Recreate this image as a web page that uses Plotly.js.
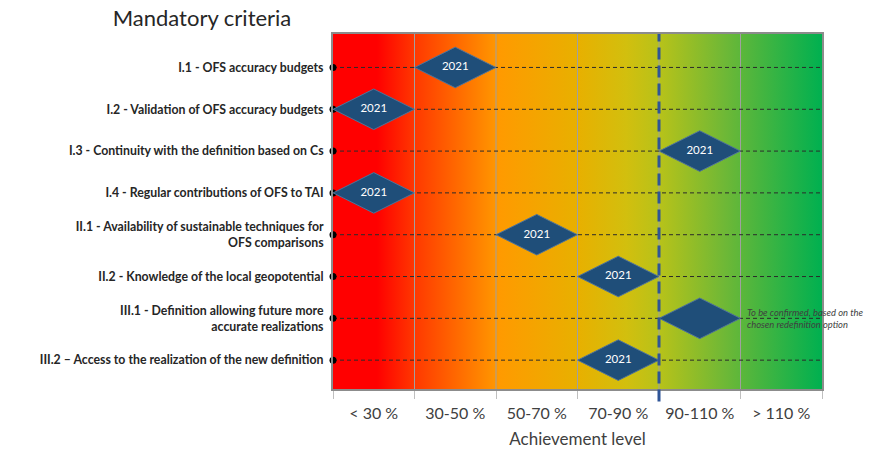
<!DOCTYPE html>
<html>
<head>
<meta charset="utf-8">
<script src="https://cdn.plot.ly/plotly-3.0.1.min.js"></script>
<style>html,body{margin:0;padding:0;background:#fff;}#chart{width:869px;height:452px;}</style>
</head>
<body>
<div id="chart"></div>
<script>
// ---- data ----
var levels = ['< 30 %', '30-50 %', '50-70 %', '70-90 %', '90-110 %', '> 110 %'];
var criteria = [
  'I.1 - OFS accuracy budgets',
  'I.2 - Validation of OFS accuracy budgets',
  'I.3 - Continuity with the definition based on Cs',
  'I.4 - Regular contributions of OFS to TAI',
  'II.1 - Availability of sustainable techniques for<br>OFS comparisons',
  'II.2 - Knowledge of the local geopotential',
  'III.1 - Definition allowing future more<br>accurate realizations',
  'III.2 \u2013 Access to the realization of the new definition'
];
var achievedLevel = ['30-50 %', '< 30 %', '90-110 %', '< 30 %', '50-70 %', '70-90 %', '90-110 %', '70-90 %'];
var yearLabel = ['2021', '2021', '2021', '2021', '2021', '2021', '', '2021'];
var noteCriterion = 'III.1 - Definition allowing future more<br>accurate realizations';
var noteText = 'To be confirmed, based on the<br>chosen redefinition option';
var targetLevel = '90-110 %';  // dashed target line sits at the lower edge of this level
var gradientStops = [[0, '#ff0000'], [0.09, '#ff0000'], [0.17, '#ff3a00'], [0.34, '#ff9a00'],
                     [0.5, '#e8b000'], [0.6, '#d2bf0e'], [0.67, '#b6c21a'], [0.8, '#6fb836'], [1, '#00b050']];

// ---- derived positions ----
var xIdx = levels.map(function (_, i) { return i + 1; });
var rowIdx = criteria.map(function (_, i) { return i + 1; });
var xMin = 0.5, xMax = levels.length + 0.5;
var yTop = 0.2, yBottom = criteria.length + 0.69;
var boundaries = [];
for (var b = xMin; b <= xMax; b += 1) boundaries.push(b);

var FONT = 'Lato, "Open Sans", sans-serif';

var bgTrace = {
  type: 'scatter', mode: 'none',
  x: [xMin, xMax, xMax, xMin, xMin], y: [yTop, yTop, yBottom, yBottom, yTop],
  fill: 'toself',
  fillgradient: {type: 'horizontal', colorscale: gradientStops},
  hoverinfo: 'skip', showlegend: false
};

var hx = [], hy = [];
rowIdx.forEach(function (r) { hx.push(xMin, xMax, null); hy.push(r, r, null); });
var hLines = {
  type: 'scatter', mode: 'lines', x: hx, y: hy,
  line: {color: '#2b2b2b', width: 1, dash: '4px,3px'},
  hoverinfo: 'skip', showlegend: false
};

var vx = [], vy = [];
boundaries.slice(1, -1).forEach(function (bx) { vx.push(bx, bx, null); vy.push(yTop, yBottom, null); });
var vLines = {
  type: 'scatter', mode: 'lines', x: vx, y: vy,
  line: {color: '#a0a0a0', width: 1},
  hoverinfo: 'skip', showlegend: false
};

var dots = {
  type: 'scatter', mode: 'markers',
  x: rowIdx.map(function () { return xMin; }), y: rowIdx,
  marker: {color: '#000', size: 7},
  cliponaxis: false, hoverinfo: 'skip', showlegend: false
};

var diamonds = {
  type: 'scatter', mode: 'markers+text',
  x: achievedLevel.map(function (l) { return levels.indexOf(l) + 1; }),
  y: rowIdx,
  text: yearLabel,
  textposition: 'middle center',
  textfont: {family: FONT, size: 11.5, color: '#ffffff'},
  marker: {symbol: 'diamond-wide', size: 58, color: '#1f4e79', line: {color: '#4f7399', width: 1}},
  cliponaxis: false, hoverinfo: 'skip', showlegend: false
};

var targetX = levels.indexOf(targetLevel) + 0.5;
var noteRow = criteria.indexOf(noteCriterion) + 1;
var noteX = levels.indexOf(achievedLevel[noteRow - 1]) + 1.5;

var layout = {
  width: 869, height: 452,
  margin: {l: 333, r: 47, t: 34, b: 63},
  paper_bgcolor: '#ffffff', plot_bgcolor: '#ffffff',
  showlegend: false,
  font: {family: FONT, color: '#404040'},
  title: {text: 'Mandatory criteria', x: 202 / 869, xanchor: 'center', xref: 'container',
          y: 1 - 18 / 452, yanchor: 'middle', yref: 'container',
          font: {family: FONT, size: 22, color: '#262626'}},
  xaxis: {
    range: [xMin, xMax], tickmode: 'array', tickvals: xIdx, ticktext: levels,
    ticks: '', showgrid: false, zeroline: false,
    tickfont: {family: FONT, size: 16, color: '#404040'},
    ticklabelstandoff: 9,
    showline: true, mirror: true, linecolor: '#8c8c8c', linewidth: 2,
    minor: {tickmode: 'array', tickvals: boundaries, ticks: 'outside', ticklen: 8, tickcolor: '#bfbfbf', tickwidth: 1, showgrid: false},
    title: {text: 'Achievement level', font: {family: FONT, size: 17, color: '#404040'}, standoff: 12},
    fixedrange: true
  },
  yaxis: {
    range: [yBottom, yTop], tickmode: 'array', tickvals: rowIdx, ticktext: criteria,
    ticks: '', showgrid: false, zeroline: false,
    tickfont: {family: FONT, size: 12.3, color: '#262626', weight: 'bold'},
    ticklabelstandoff: 5,
    showline: true, mirror: true, linecolor: '#8c8c8c', linewidth: 2,
    fixedrange: true
  },
  shapes: [{
    type: 'line', xref: 'x', yref: 'paper', x0: targetX, x1: targetX, y0: -0.035, y1: 1,
    line: {color: '#2f5597', width: 3, dash: '12px,6px'}, layer: 'above'
  }],
  annotations: [{
    x: noteX, y: noteRow, xref: 'x', yref: 'y', xanchor: 'left', yanchor: 'middle',
    xshift: 4, showarrow: false, align: 'left', text: noteText,
    font: {family: FONT, size: 9.4, color: '#404040', style: 'italic'}
  }]
};

Plotly.newPlot('chart', [bgTrace, vLines, hLines, dots, diamonds], layout, {displayModeBar: false, staticPlot: true});
</script>
</body>
</html>
